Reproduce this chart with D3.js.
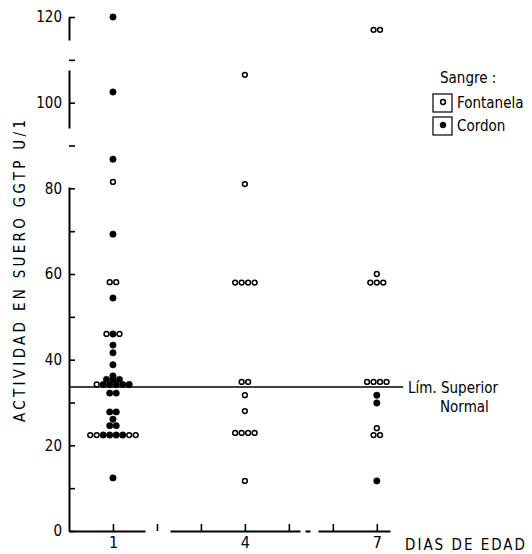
<!DOCTYPE html>
<html>
<head>
<meta charset="utf-8">
<script src="https://cdn.jsdelivr.net/npm/d3@7"></script>
<style>
  body { margin: 0; background: #fff; }
  svg { display: block; }
  text { font-family: "DejaVu Sans Condensed", "Liberation Sans Narrow", "DejaVu Sans", sans-serif; font-stretch: condensed; fill: #000; }
</style>
</head>
<body>
<svg id="chart" width="532" height="554"></svg>
<script>
// Ticks and labels
const yTicksMayores = [0, 20, 40, 60, 80, 100, 120];
const yTicksMenores = [10, 30, 50, 70, 90, 110];
const diasTicks = [1, 2, 3, 4, 5, 6, 7];
const diasEtiquetados = [1, 4, 7];
const limiteSuperior = 33.6;

// Values per day: [GGTP U/l, sample] ; F = Fontanela (open), C = Cordon (filled)
const dia1 = [
  [120, "C"], [102.5, "C"], [86.8, "C"], [81.5, "F"], [69.3, "C"],
  [58.1, "F"], [58.1, "F"], [54.4, "C"],
  [46, "F"], [46, "C"], [46, "F"],
  [43.4, "C"], [41.6, "C"], [38.8, "C"], [36.2, "C"],
  [35.4, "C"], [35.4, "C"], [35.4, "C"],
  [34.2, "F"], [34.2, "C"], [34.2, "C"], [34.2, "C"], [34.2, "C"], [34.2, "C"],
  [32.2, "C"], [32.2, "C"],
  [27.8, "C"], [27.8, "C"], [26.1, "C"], [24.6, "C"], [24.6, "C"],
  [22.4, "F"], [22.4, "F"], [22.4, "C"], [22.4, "C"], [22.4, "C"], [22.4, "C"], [22.4, "F"], [22.4, "F"],
  [12.4, "C"]
];
const dia4 = [
  [106.5, "F"], [81, "F"],
  [58, "F"], [58, "F"], [58, "F"], [58, "F"],
  [34.8, "F"], [34.8, "F"], [31.7, "F"], [28, "F"],
  [22.9, "F"], [22.9, "F"], [22.9, "F"], [22.9, "F"],
  [11.7, "F"]
];
const dia7 = [
  [117, "F"], [117, "F"], [60, "F"],
  [58, "F"], [58, "F"], [58, "F"],
  [34.8, "F"], [34.8, "F"], [34.8, "F"], [34.8, "F"],
  [31.7, "C"], [29.9, "C"], [24, "F"], [22.4, "F"], [22.4, "F"],
  [11.7, "C"]
];

const svg = d3.select("#chart");

const x = d3.scaleLinear().domain([0, 7.3]).range([69, 390]);
const y = d3.scaleLinear().domain([0, 120]).range([531, 17]);

// Y axis (major + minor ticks, inward)
const yAxis = svg.append("g")
  .attr("transform", `translate(${x(0)},0)`)
  .call(d3.axisLeft(y).tickValues(yTicksMayores).tickSize(-6).tickSizeOuter(0).tickPadding(7));
yAxis.select(".domain").attr("stroke-width", 2).attr("stroke-dasharray", "344,59,58,30,30");
yAxis.selectAll(".tick line").attr("stroke-width", 1.6);
yAxis.selectAll("text").attr("font-size", 15);

const yMinor = svg.append("g")
  .attr("transform", `translate(${x(0)},0)`)
  .call(d3.axisLeft(y).tickValues(yTicksMenores).tickSize(-6).tickFormat(""));
yMinor.select(".domain").remove();
yMinor.selectAll(".tick line").attr("stroke-width", 1.6);

// X axis (inward ticks, only 1,4,7 labelled)
const xAxis = svg.append("g")
  .attr("transform", `translate(0,${y(0)})`)
  .call(d3.axisBottom(x).tickValues(diasTicks).tickSize(-7).tickSizeOuter(0).tickPadding(6)
    .tickFormat(d => diasEtiquetados.includes(d) ? d : ""));
xAxis.select(".domain").attr("stroke-width", 2).attr("stroke-dasharray", "76,25,130,5,5,8,80");
xAxis.selectAll(".tick line").attr("stroke-width", 1.6);
xAxis.selectAll("text").attr("font-size", 16);

// Upper normal limit
svg.append("line")
  .attr("x1", x(0)).attr("x2", x(7.6))
  .attr("y1", y(limiteSuperior)).attr("y2", y(limiteSuperior))
  .attr("stroke", "#000").attr("stroke-width", 1.5);

// Points: equal values on the same day are spread side by side
const paso = 6.5;
function layout(dia, valores) {
  const grupos = d3.group(valores, v => v[0]);
  const out = [];
  grupos.forEach(arr => {
    arr.forEach((v, i) => {
      out.push({ cx: x(dia) + (i - (arr.length - 1) / 2) * paso, cy: y(v[0]), tipo: v[1] });
    });
  });
  return out;
}
const puntos = [].concat(layout(1, dia1), layout(4, dia4), layout(7, dia7));

svg.append("g").selectAll("circle")
  .data(puntos)
  .join("circle")
  .attr("cx", d => d.cx)
  .attr("cy", d => d.cy)
  .attr("r", d => d.tipo === "C" ? 3.2 : 2.4)
  .attr("fill", d => d.tipo === "C" ? "#000" : "#fff")
  .attr("stroke", "#000")
  .attr("stroke-width", d => d.tipo === "C" ? 0.5 : 1.5);

// Axis titles
svg.append("text")
  .attr("transform", "translate(20,271) rotate(-90)")
  .attr("text-anchor", "middle")
  .attr("dominant-baseline", "central")
  .attr("font-size", 15)
  .attr("textLength", 302)
  .attr("lengthAdjust", "spacing")
  .text("ACTIVIDAD EN SUERO GGTP U/1");

svg.append("text")
  .attr("x", 405).attr("y", 545)
  .attr("dominant-baseline", "central")
  .attr("font-size", 15)
  .attr("textLength", 120)
  .attr("lengthAdjust", "spacing")
  .text("DIAS DE EDAD");

svg.append("text")
  .attr("x", 408).attr("y", 388)
  .attr("dominant-baseline", "central")
  .attr("font-size", 15)
  .text("Lím. Superior");
svg.append("text")
  .attr("x", 440).attr("y", 407)
  .attr("dominant-baseline", "central")
  .attr("font-size", 15)
  .text("Normal");

// Legend
const leyenda = svg.append("g");
leyenda.append("text")
  .attr("x", 440).attr("y", 78)
  .attr("dominant-baseline", "central")
  .attr("font-size", 15)
  .text("Sangre :");
const items = [
  { tipo: "F", nombre: "Fontanela", cy: 103 },
  { tipo: "C", nombre: "Cordon", cy: 126 }
];
items.forEach(it => {
  leyenda.append("rect")
    .attr("x", 433).attr("y", it.cy - 9)
    .attr("width", 19).attr("height", 18)
    .attr("fill", "none").attr("stroke", "#000").attr("stroke-width", 1.2);
  leyenda.append("circle")
    .attr("cx", 443).attr("cy", it.cy - 1)
    .attr("r", it.tipo === "C" ? 3 : 2.4)
    .attr("fill", it.tipo === "C" ? "#000" : "#fff")
    .attr("stroke", "#000").attr("stroke-width", it.tipo === "C" ? 0.5 : 1.5);
  leyenda.append("text")
    .attr("x", 457).attr("y", it.cy)
    .attr("dominant-baseline", "central")
    .attr("font-size", 15)
    .text(it.nombre);
});
</script>
</body>
</html>
